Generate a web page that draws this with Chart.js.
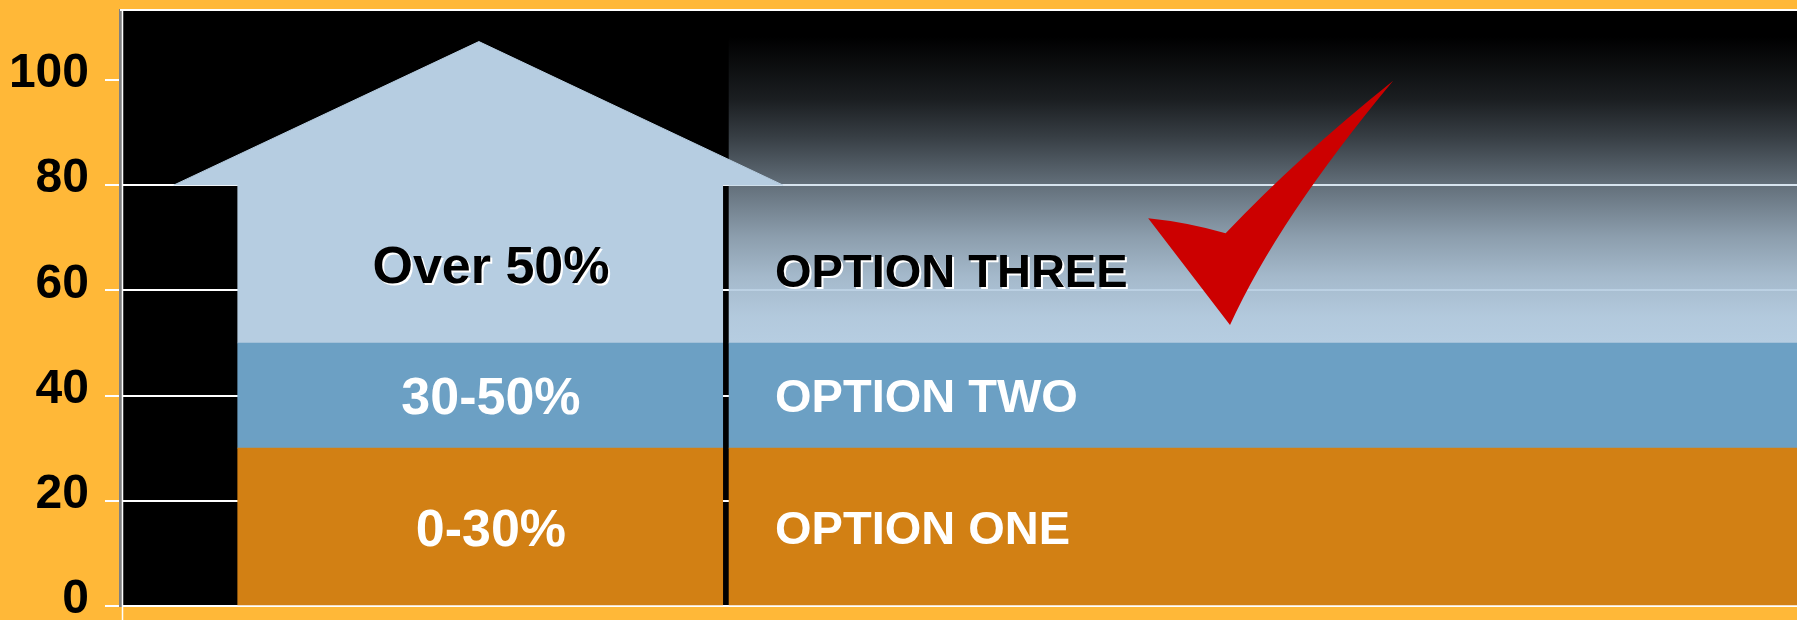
<!DOCTYPE html>
<html>
<head>
<meta charset="utf-8">
<title>Options</title>
<script src="https://cdn.jsdelivr.net/npm/chart.js@4.4.1/dist/chart.umd.min.js"></script>
<style>
  html, body { margin: 0; padding: 0; background: #FFB838; overflow: hidden; }
  #wrap { position: relative; width: 1797px; height: 620px; }
</style>
</head>
<body>
<div id="wrap"><canvas id="chart"></canvas></div>
<script>
// --- Data ---
const houseLabels = ['0-30%', '30-50%', 'Over 50%'];
const optionLabels = ['OPTION ONE', 'OPTION TWO', 'OPTION THREE'];
const bandLow = [0, 30, 50];
const bandHigh = [30, 50, 80];
const roofPeak = 107.3;
const yTicks = [0, 20, 40, 60, 80, 100];
const yMax = 113.3;

// --- Layout (x scale runs 0..100 across the plot) ---
const HOUSE_X = 21.48;
const OPTION_X = 68.16;
const HOUSE_WIDTH = 485;   // px
const OPTION_WIDTH = 1068; // px
const ROOF_X = [3.2, 21.4, 39.54];
const HOUSE_LABEL_X = 22.12;
const OPTION_LABEL_X = 39.06;
const OPTION_NUDGE = [0, 0, 6]; // px, label drop inside its band

// check mark outline, in chart units (x, y)
const CHECK = {
  leftTip: [61.31, 73.71], c1: [63.63, 72.97], notch: [65.93, 70.86],
  c2: [70.19, 85.23], topTip: [75.92, 99.87],
  c3: [69.07, 73.63], bottomTip: [66.19, 53.42]
};

// --- Styles ---
const FONT = '"Liberation Sans", Arial, Helvetica, sans-serif';
const ORANGE = '#D28014';
const BLUE = '#6CA0C4';
const LIGHT_BLUE = '#B6CDE1';
const bandColors = [ORANGE, BLUE, LIGHT_BLUE];
const fadeStops = [[0, 1], [0.08, 0.98], [0.2, 0.9], [0.32, 0.77], [0.47, 0.55], [0.62, 0.3], [0.73, 0.15], [0.92, 0], [1, 0]];

function fadeGradient(context) {
    const chart = context.chart;
    if (!chart.chartArea) return LIGHT_BLUE;
    const y = chart.scales.y;
    const g = chart.ctx.createLinearGradient(0, y.getPixelForValue(bandLow[2]), 0, y.getPixelForValue(yMax));
    fadeStops.forEach(([t, a]) => g.addColorStop(t, 'rgba(182,205,225,' + a + ')'));
    return g;
}

// --- Datasets ---
const datasets = [];
houseLabels.forEach((name, i) => {
    datasets.push({
        label: name,
        data: [{ x: HOUSE_X, y: [bandLow[i], bandHigh[i]] }],
        backgroundColor: bandColors[i],
        barThickness: HOUSE_WIDTH,
        grouped: false,
        borderWidth: 0,
        order: 2
    });
});
optionLabels.forEach((name, i) => {
    const top = i === 2 ? yMax : bandHigh[i];
    datasets.push({
        label: name,
        data: [{ x: OPTION_X, y: [bandLow[i], top] }],
        backgroundColor: i === 2 ? fadeGradient : bandColors[i],
        barThickness: OPTION_WIDTH,
        grouped: false,
        borderWidth: 0,
        order: 2
    });
});
const roofY = [bandHigh[2], roofPeak, bandHigh[2]];
datasets.push({
    type: 'line',
    label: 'roof',
    data: ROOF_X.map((x, i) => ({ x: x, y: roofY[i] })),
    fill: { value: bandHigh[2] },
    backgroundColor: LIGHT_BLUE,
    borderColor: LIGHT_BLUE,
    borderWidth: 1,
    pointRadius: 0,
    tension: 0,
    order: 0
});

// --- Plugins ---
const framePlugin = {
    id: 'frame',
    beforeDraw(chart) {
        const { ctx, chartArea: a } = chart;
        ctx.save();
        ctx.fillStyle = '#000';
        ctx.fillRect(a.left, a.top, a.right - a.left, a.bottom - a.top);
        ctx.restore();
    },
    beforeDatasetsDraw(chart) {
        const { ctx, chartArea: a } = chart;
        ctx.save();
        ctx.strokeStyle = '#fff';
        ctx.lineWidth = 2;
        ctx.beginPath();
        ctx.moveTo(a.left, a.top);
        ctx.lineTo(a.right, a.top);
        ctx.stroke();
        ctx.lineWidth = 1.5;
        ctx.beginPath();
        ctx.moveTo(a.left + 2.5, a.top);
        ctx.lineTo(a.left + 2.5, chart.height);
        ctx.stroke();
        ctx.restore();
    }
};

function drawLabel(ctx, text, x, yMid, size, align, dark) {
    ctx.font = 'bold ' + size + 'px ' + FONT;
    ctx.textAlign = align;
    ctx.textBaseline = 'alphabetic';
    const base = yMid + size * 0.358;
    if (dark) {
        ctx.shadowColor = '#fff';
        ctx.shadowOffsetX = 2;
        ctx.shadowOffsetY = 2;
        ctx.shadowBlur = 0;
        ctx.fillStyle = '#000';
    } else {
        ctx.shadowColor = 'rgba(0,0,0,0)';
        ctx.fillStyle = '#fff';
    }
    ctx.fillText(text, x, base);
}

const labelPlugin = {
    id: 'bandLabels',
    afterDatasetsDraw(chart) {
        const { ctx, scales: { x, y } } = chart;
        ctx.save();
        houseLabels.forEach((txt, i) => {
            const mid = (bandLow[i] + bandHigh[i]) / 2;
            drawLabel(ctx, txt, x.getPixelForValue(HOUSE_LABEL_X), y.getPixelForValue(mid), 52, 'center', i === 2);
        });
        optionLabels.forEach((txt, i) => {
            const mid = (bandLow[i] + bandHigh[i]) / 2;
            drawLabel(ctx, txt, x.getPixelForValue(OPTION_LABEL_X), y.getPixelForValue(mid) + OPTION_NUDGE[i], 47, 'left', i === 2);
        });
        ctx.restore();

        // red check mark
        const p = pt => [x.getPixelForValue(pt[0]), y.getPixelForValue(pt[1])];
        const lt = p(CHECK.leftTip), c1 = p(CHECK.c1), n = p(CHECK.notch);
        const c2 = p(CHECK.c2), tt = p(CHECK.topTip), c3 = p(CHECK.c3), bt = p(CHECK.bottomTip);
        ctx.save();
        ctx.fillStyle = '#CC0000';
        ctx.beginPath();
        ctx.moveTo(lt[0], lt[1]);
        ctx.quadraticCurveTo(c1[0], c1[1], n[0], n[1]);
        ctx.quadraticCurveTo(c2[0], c2[1], tt[0], tt[1]);
        ctx.quadraticCurveTo(c3[0], c3[1], bt[0], bt[1]);
        ctx.closePath();
        ctx.fill();
        ctx.restore();
    }
};

// --- Chart ---
window.onload = function() {
    const ctx = document.getElementById('chart').getContext('2d');
    new Chart(ctx, {
        type: 'bar',
        data: { datasets: datasets },
        options: {
            responsive: true,
            maintainAspectRatio: false,
            devicePixelRatio: 1,
            animation: false,
            layout: { padding: { top: 10, bottom: 14, left: 0, right: 0 } },
            scales: {
                x: {
                    type: 'linear',
                    display: false,
                    min: 0,
                    max: 100,
                    offset: false
                },
                y: {
                    min: 0,
                    max: yMax,
                    afterBuildTicks: s => { s.ticks = yTicks.map(v => ({ value: v })); },
                    afterFit: s => { s.width = 120; s.paddingTop = 0; s.paddingBottom = 0; },
                    ticks: {
                        color: '#000',
                        padding: 16,
                        labelOffset: -6,
                        font: { family: FONT, size: 48, weight: 'bold' }
                    },
                    grid: {
                        color: c => (c.tick && c.tick.value === 100) ? 'rgba(0,0,0,0)' : '#fff',
                        tickColor: '#fff',
                        lineWidth: 2,
                        tickLength: 15
                    },
                    border: { color: '#808080', width: 3 }
                }
            },
            plugins: {
                legend: { display: false },
                tooltip: { enabled: false }
            }
        },
        plugins: [framePlugin, labelPlugin]
    });
};
</script>
</body>
</html>
